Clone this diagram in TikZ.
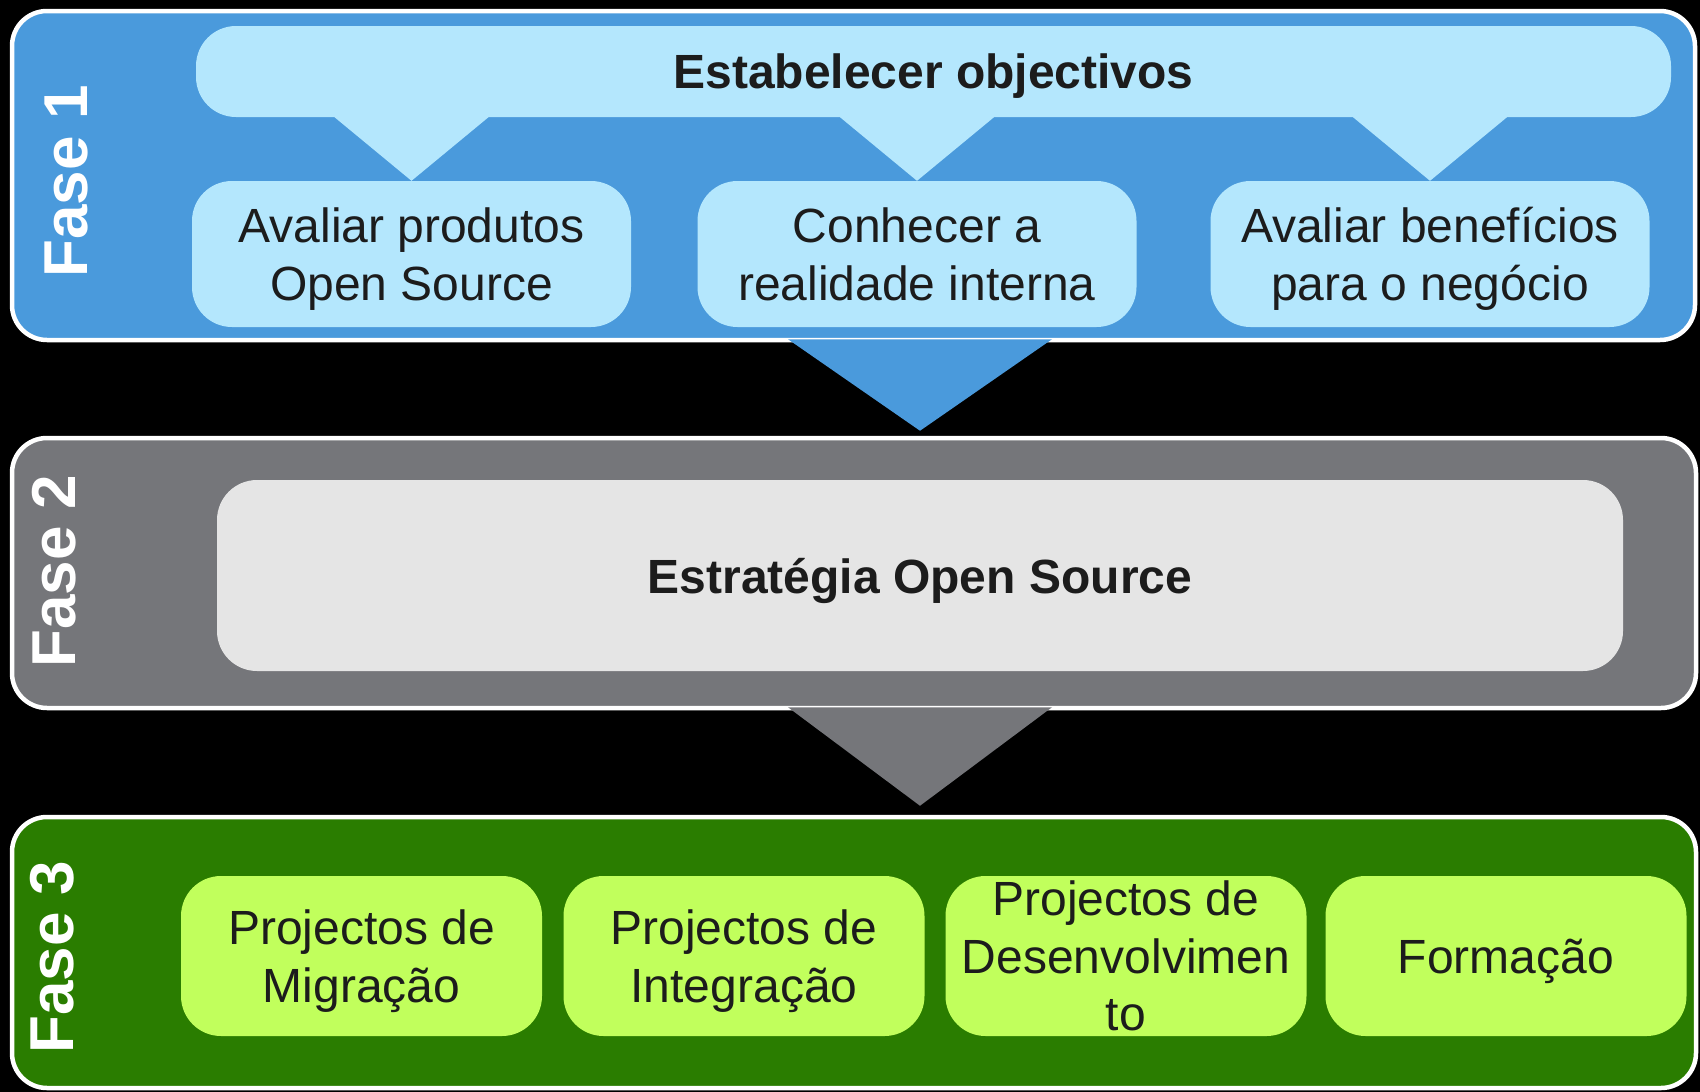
\documentclass[tikz,border=0pt]{standalone}
\usepackage{fontspec}
\setmainfont{Liberation Sans}
\definecolor{faseblue}{HTML}{4A9ADC}
\definecolor{lightblue}{HTML}{B4E7FD}
\definecolor{fasegray}{HTML}{75767A}
\definecolor{lightgray}{HTML}{E5E5E5}
\definecolor{fasegreen}{HTML}{2A7D00}
\definecolor{lightgreen}{HTML}{C1FF5C}
\definecolor{txt}{HTML}{1C1C1C}
\tikzset{
  fase/.style={draw=white, line width=4.5pt, rounded corners=35pt, inner sep=0pt},
  box/.style={rounded corners=40pt, inner sep=0pt, align=center, text=txt, text depth=0pt,
    font=\fontsize{48}{57.5}\selectfont},
  tag/.style={rotate=90, text=white, inner sep=0pt, font=\fontsize{62}{62}\selectfont\bfseries},
}
\begin{document}
\begin{tikzpicture}[x=1pt, y=-1pt]
    \useasboundingbox (0,0) rectangle (1700,1092);
    \fill[black] (0,0) rectangle (1700,1092);

    \node[fase, fill=faseblue, minimum width=1683pt, minimum height=329pt] (ph1) at (853.5,175.5) {};
    \node[fase, fill=fasegray, minimum width=1684pt, minimum height=270pt] (ph2) at (854,573) {};
    \node[fase, fill=fasegreen, minimum width=1684pt, minimum height=271pt] (ph3) at (854,952.5) {};

    \node[tag] (t1) at (66,181) {Fase 1};
    \node[tag] (t2) at (54.5,571) {Fase 2};
    \node[tag] (t3) at (52.5,957) {Fase 3};

    \node[box, fill=lightblue, minimum width=1475pt, minimum height=91pt, font=\fontsize{48}{57.5}\selectfont\bfseries] (obj) at (933.5,71.5) {Estabelecer objectivos};
    \node[box, fill=lightblue, minimum width=439pt, minimum height=146pt] (b1) at (411.5,254) {Avaliar produtos\\Open Source};
    \node[box, fill=lightblue, minimum width=439pt, minimum height=146pt] (b2) at (917,254) {Conhecer a\\realidade interna};
    \node[box, fill=lightblue, minimum width=439pt, minimum height=146pt] (b3) at (1430,254) {Avaliar benefícios\\para o negócio};

    \foreach \b in {b1,b2,b3}
        \fill[lightblue] ([xshift=-77pt]\b.north |- obj.south) -- (\b.north) -- ([xshift=77pt]\b.north |- obj.south) -- cycle;

    \node[box, fill=lightgray, minimum width=1406pt, minimum height=191pt, font=\fontsize{48}{57.5}\selectfont\bfseries] (est) at (920,575.5) {Estratégia Open Source};

    \node[box, fill=lightgreen, minimum width=361pt, minimum height=160pt] (g1) at (361.5,956) {Projectos de\\Migração};
    \node[box, fill=lightgreen, minimum width=361pt, minimum height=160pt] (g2) at (744,956) {Projectos de\\Integração};
    \node[box, fill=lightgreen, minimum width=361pt, minimum height=160pt] (g3) at (1126,956) {Projectos de\\Desenvolvimen\\to};
    \node[box, fill=lightgreen, minimum width=361pt, minimum height=160pt] (g4) at (1506,956) {Formação};

    \fill[faseblue] ([xshift=-132pt,yshift=3pt]est.north |- ph1.south) -- ([yshift=5pt]est.north |- ph2.north) -- ([xshift=132pt,yshift=3pt]est.north |- ph1.south) -- cycle;
    \fill[fasegray] ([xshift=-132pt,yshift=3pt]est.north |- ph2.south) -- ([yshift=9pt]est.north |- ph3.north) -- ([xshift=132pt,yshift=3pt]est.north |- ph2.south) -- cycle;
\end{tikzpicture}
\end{document}
